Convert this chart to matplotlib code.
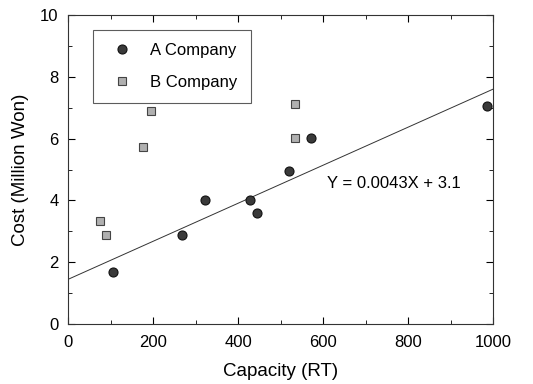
import numpy as np
import matplotlib.pyplot as plt
from matplotlib.ticker import MultipleLocator

plt.rcParams['font.family'] = ['Liberation Sans', 'DejaVu Sans']

# capacity (RT) and cost (million won)
a_capacity = [106, 267, 321, 428, 445, 520, 571, 986]
a_cost = [1.68, 2.88, 4.02, 4.02, 3.59, 4.94, 6.03, 7.05]
b_capacity = [75, 88, 177, 196, 535, 535]
b_cost = [3.35, 2.87, 5.73, 6.90, 7.12, 6.03]

# fitted line as drawn
fit_x = [0, 1000]
fit_y = [1.45, 7.60]
fit_label = 'Y = 0.0043X + 3.1'

if __name__ == '__main__':
    fig = plt.figure(figsize=(5.33, 3.84), dpi=100)
    ax = fig.add_axes([0.128, 0.156, 0.797, 0.805])

    ax.plot(fit_x, fit_y, color='#333333', lw=0.7, zorder=1)
    ax.plot(a_capacity, a_cost, 'o', ms=6.5, mfc='#3a3a3a', mec='#111111', mew=0.8,
            ls='none', label='A Company', zorder=3)
    ax.plot(b_capacity, b_cost, 's', ms=5.2, mfc='#b0b0b0', mec='#444444', mew=0.8,
            ls='none', label='B Company', zorder=3)

    ax.text(609, 4.56, fit_label, fontsize=12, va='center', ha='left')

    ax.set_xlim(0, 1000)
    ax.set_ylim(0, 10)
    ax.xaxis.set_major_locator(MultipleLocator(200))
    ax.xaxis.set_minor_locator(MultipleLocator(100))
    ax.yaxis.set_major_locator(MultipleLocator(2))
    ax.yaxis.set_minor_locator(MultipleLocator(1))
    ax.tick_params(which='both', direction='in', top=True, right=True, labelsize=12)
    ax.tick_params(axis='x', pad=8)
    ax.tick_params(axis='y', pad=7)
    ax.tick_params(which='major', length=5)
    ax.tick_params(which='minor', length=3)
    for s in ax.spines.values():
        s.set_linewidth(0.8)
        s.set_color('#333333')

    ax.set_xlabel('Capacity (RT)', fontsize=13.5, labelpad=9)
    ax.set_ylabel('Cost (Million Won)', fontsize=13.5, labelpad=8)

    leg = ax.legend(loc='upper left', bbox_to_anchor=(0.059, 0.953), frameon=True,
                    fancybox=False, edgecolor='#333333', fontsize=12,
                    handlelength=1.9, handletextpad=0.72, borderpad=0.8,
                    labelspacing=1.0, borderaxespad=0)
    leg.get_frame().set_linewidth(0.8)

    fig.savefig('out.png', dpi=100)
